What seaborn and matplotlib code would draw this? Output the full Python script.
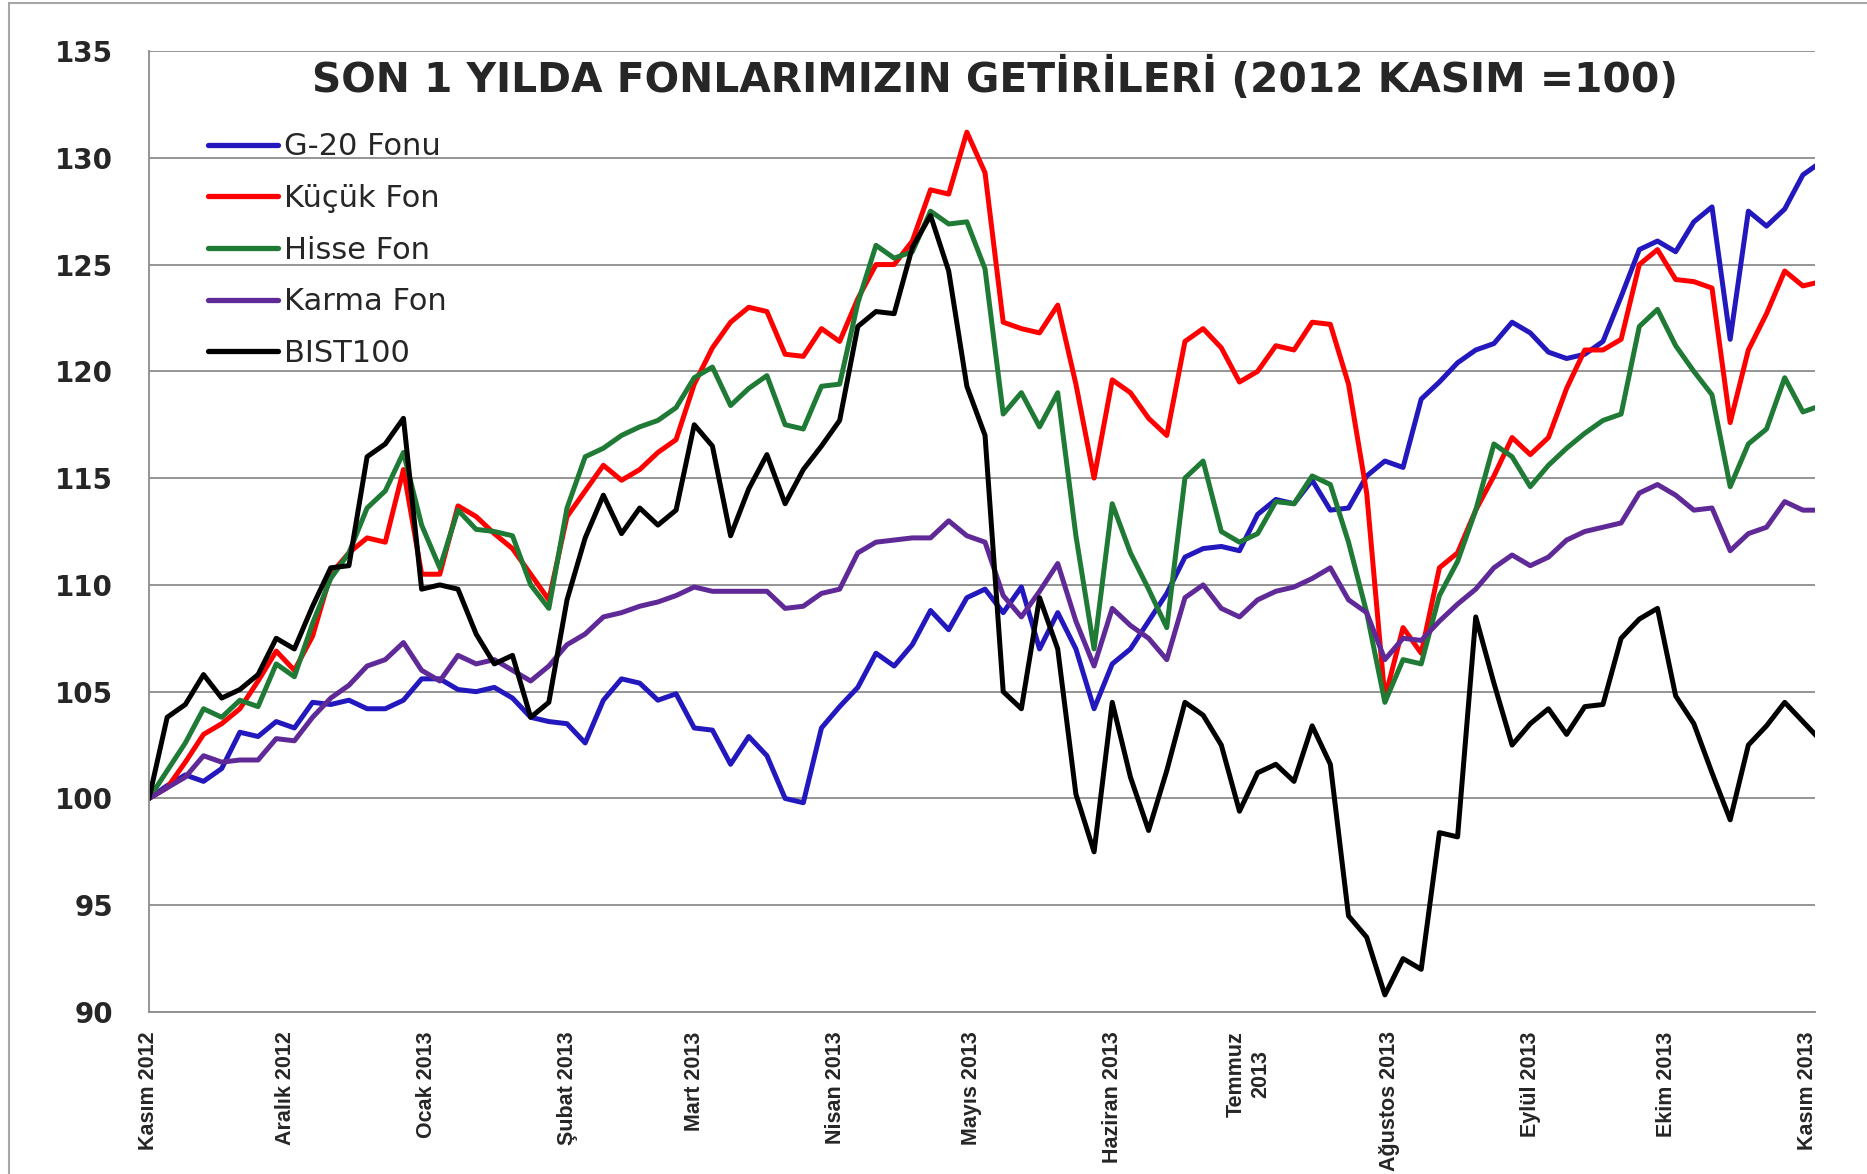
import pandas as pd
import matplotlib
matplotlib.use('Agg')
import matplotlib.pyplot as plt
from matplotlib.lines import Line2D
from matplotlib.patches import Rectangle
import seaborn as sns

# 4 gunluk adimlarla okunan degerler (2012 Kasim = 100)
tarihler = pd.date_range('2012-11-01', periods=93, freq='4D')

g20_fonu = [
    100.0, 100.6, 101.1, 100.8, 101.4, 103.1, 102.9, 103.6, 103.3, 104.5,
    104.4, 104.6, 104.2, 104.2, 104.6, 105.6, 105.6, 105.1, 105.0, 105.2,
    104.7, 103.8, 103.6, 103.5, 102.6, 104.6, 105.6, 105.4, 104.6, 104.9,
    103.3, 103.2, 101.6, 102.9, 102.0, 100.0, 99.8, 103.3, 104.3, 105.2,
    106.8, 106.2, 107.2, 108.8, 107.9, 109.4, 109.8, 108.7, 109.9, 107.0,
    108.7, 107.0, 104.2, 106.3, 107.0, 108.3, 109.6, 111.3, 111.7, 111.8,
    111.6, 113.3, 114.0, 113.8, 114.9, 113.5, 113.6, 115.1, 115.8, 115.5,
    118.7, 119.5, 120.4, 121.0, 121.3, 122.3, 121.8, 120.9, 120.6, 120.8,
    121.4, 123.5, 125.7, 126.1, 125.6, 127.0, 127.7, 121.5, 127.5, 126.8,
    127.6, 129.2, 129.8]

kucuk_fon = [
    100.0, 100.5, 101.7, 103.0, 103.5, 104.2, 105.5, 106.9, 106.0, 107.6,
    110.5, 111.5, 112.2, 112.0, 115.4, 110.5, 110.5, 113.7, 113.2, 112.4,
    111.7, 110.5, 109.3, 113.2, 114.4, 115.6, 114.9, 115.4, 116.2, 116.8,
    119.4, 121.1, 122.3, 123.0, 122.8, 120.8, 120.7, 122.0, 121.4, 123.4,
    125.0, 125.0, 126.1, 128.5, 128.3, 131.2, 129.3, 122.3, 122.0, 121.8,
    123.1, 119.4, 115.0, 119.6, 119.0, 117.8, 117.0, 121.4, 122.0, 121.1,
    119.5, 120.0, 121.2, 121.0, 122.3, 122.2, 119.4, 114.3, 104.7, 108.0,
    106.8, 110.8, 111.5, 113.5, 115.1, 116.9, 116.1, 116.9, 119.2, 121.0,
    121.0, 121.5, 125.0, 125.7, 124.3, 124.2, 123.9, 117.6, 121.0, 122.7,
    124.7, 124.0, 124.2]

hisse_fon = [
    100.0, 101.3, 102.6, 104.2, 103.8, 104.6, 104.3, 106.3, 105.7, 108.2,
    110.3, 111.5, 113.6, 114.4, 116.2, 112.8, 110.8, 113.5, 112.6, 112.5,
    112.3, 110.0, 108.9, 113.6, 116.0, 116.4, 117.0, 117.4, 117.7, 118.3,
    119.7, 120.2, 118.4, 119.2, 119.8, 117.5, 117.3, 119.3, 119.4, 123.2,
    125.9, 125.3, 125.6, 127.5, 126.9, 127.0, 124.8, 118.0, 119.0, 117.4,
    119.0, 112.3, 107.0, 113.8, 111.5, 109.8, 108.0, 115.0, 115.8, 112.5,
    112.0, 112.4, 113.9, 113.8, 115.1, 114.7, 112.0, 108.7, 104.5, 106.5,
    106.3, 109.5, 111.1, 113.5, 116.6, 116.0, 114.6, 115.6, 116.4, 117.1,
    117.7, 118.0, 122.1, 122.9, 121.2, 120.0, 118.9, 114.6, 116.6, 117.3,
    119.7, 118.1, 118.4]

karma_fon = [
    100.0, 100.5, 101.0, 102.0, 101.7, 101.8, 101.8, 102.8, 102.7, 103.8,
    104.7, 105.3, 106.2, 106.5, 107.3, 106.0, 105.5, 106.7, 106.3, 106.5,
    106.0, 105.5, 106.2, 107.2, 107.7, 108.5, 108.7, 109.0, 109.2, 109.5,
    109.9, 109.7, 109.7, 109.7, 109.7, 108.9, 109.0, 109.6, 109.8, 111.5,
    112.0, 112.1, 112.2, 112.2, 113.0, 112.3, 112.0, 109.5, 108.5, 109.7,
    111.0, 108.3, 106.2, 108.9, 108.1, 107.5, 106.5, 109.4, 110.0, 108.9,
    108.5, 109.3, 109.7, 109.9, 110.3, 110.8, 109.3, 108.7, 106.5, 107.5,
    107.4, 108.3, 109.1, 109.8, 110.8, 111.4, 110.9, 111.3, 112.1, 112.5,
    112.7, 112.9, 114.3, 114.7, 114.2, 113.5, 113.6, 111.6, 112.4, 112.7,
    113.9, 113.5, 113.5]

bist100 = [
    100.0, 103.8, 104.4, 105.8, 104.7, 105.1, 105.8, 107.5, 107.0, 109.0,
    110.8, 110.9, 116.0, 116.6, 117.8, 109.8, 110.0, 109.8, 107.7, 106.3,
    106.7, 103.8, 104.5, 109.3, 112.2, 114.2, 112.4, 113.6, 112.8, 113.5,
    117.5, 116.5, 112.3, 114.5, 116.1, 113.8, 115.4, 116.5, 117.7, 122.1,
    122.8, 122.7, 125.8, 127.3, 124.7, 119.3, 117.0, 105.0, 104.2, 109.4,
    107.0, 100.2, 97.5, 104.5, 101.0, 98.5, 101.3, 104.5, 103.9, 102.5,
    99.4, 101.2, 101.6, 100.8, 103.4, 101.6, 94.5, 93.5, 90.8, 92.5,
    92.0, 98.4, 98.2, 108.5, 105.4, 102.5, 103.5, 104.2, 103.0, 104.3,
    104.4, 107.5, 108.4, 108.9, 104.8, 103.5, 101.2, 99.0, 102.5, 103.4,
    104.5, 103.6, 102.7]

seriler = ['G-20 Fonu', 'Küçük Fon', 'Hisse Fon', 'Karma Fon', 'BIST100']
renkler = {'G-20 Fonu': '#2318be', 'Küçük Fon': '#ff0000', 'Hisse Fon': '#1e7a34',
           'Karma Fon': '#5f2a98', 'BIST100': '#000000'}

ay_basi = pd.date_range('2012-11-01', '2013-11-01', freq='MS')
ay_etiketleri = ['Kasım 2012', 'Aralık 2012', 'Ocak 2013', 'Şubat 2013', 'Mart 2013',
                 'Nisan 2013', 'Mayıs 2013', 'Haziran 2013', 'Temmuz\n2013',
                 'Ağustos 2013', 'Eylül 2013', 'Ekim 2013', 'Kasım 2013']

df = pd.DataFrame({'tarih': tarihler, 'G-20 Fonu': g20_fonu, 'Küçük Fon': kucuk_fon,
                   'Hisse Fon': hisse_fon, 'Karma Fon': karma_fon, 'BIST100': bist100})
uzun = df.melt(id_vars='tarih', var_name='fon', value_name='deger')

sns.set_style('white')
plt.rcParams['font.family'] = ['DejaVu Sans']

gri = '#8c8c8c'
fig = plt.figure(figsize=(18.67, 11.74), dpi=100)
ax = fig.add_axes([149 / 1867, 1 - 1012 / 1174, (1815 - 149) / 1867, (1012 - 51) / 1174])

sns.lineplot(data=uzun, x='tarih', y='deger', hue='fon', hue_order=seriler,
             palette=renkler, linewidth=3.6, legend=False, ax=ax)

ax.set_ylim(90, 135)
ax.set_yticks(range(90, 136, 5))
ax.set_xlim(pd.Timestamp('2012-11-01'), pd.Timestamp('2013-11-02 16:00'))
ax.set_xticks(ay_basi)
ax.set_xticklabels(ay_etiketleri, rotation=90, ha='center', va='top',
                   multialignment='center', fontweight='bold', fontsize=15.5,
                   family=['Liberation Sans', 'DejaVu Sans'])
for t in ax.get_yticklabels():
    t.set_fontweight('bold')
    t.set_fontsize(20)
ax.set_xlabel('')
ax.set_ylabel('')

ax.grid(axis='y', color=gri, linewidth=1.3)
ax.grid(axis='x', visible=False)
for s in ['top', 'right']:
    ax.spines[s].set_visible(False)
for s in ['left', 'bottom']:
    ax.spines[s].set_color(gri)
    ax.spines[s].set_linewidth(1.3)
ax.tick_params(axis='y', direction='out', length=11, width=1.3, color=gri, pad=15)
ax.tick_params(axis='x', direction='in', length=5, width=1.3, color=gri, pad=14)

# lejant
el = [Line2D([0], [0], color=renkler[s], linewidth=3.8) for s in seriler]
ax.legend(el, seriler, loc='upper left', bbox_to_anchor=(0.028, 0.928), frameon=False,
          fontsize=22, handlelength=2.3, handletextpad=0.2, labelspacing=0.74,
          borderaxespad=0)

fig.text(0.533, 0.933, 'SON 1 YILDA FONLARIMIZIN GETİRİLERİ (2012 KASIM =100)',
         ha='center', va='center', fontsize=29.3, fontweight='bold')

# dis cerceve
fig.patches.append(Rectangle((9 / 1867, -0.05), 1.2, 1.05 - 3 / 1174, transform=fig.transFigure,
                             fill=False, edgecolor='#a6a6a6', linewidth=1.5))

fig.savefig('out.png', dpi=100)
